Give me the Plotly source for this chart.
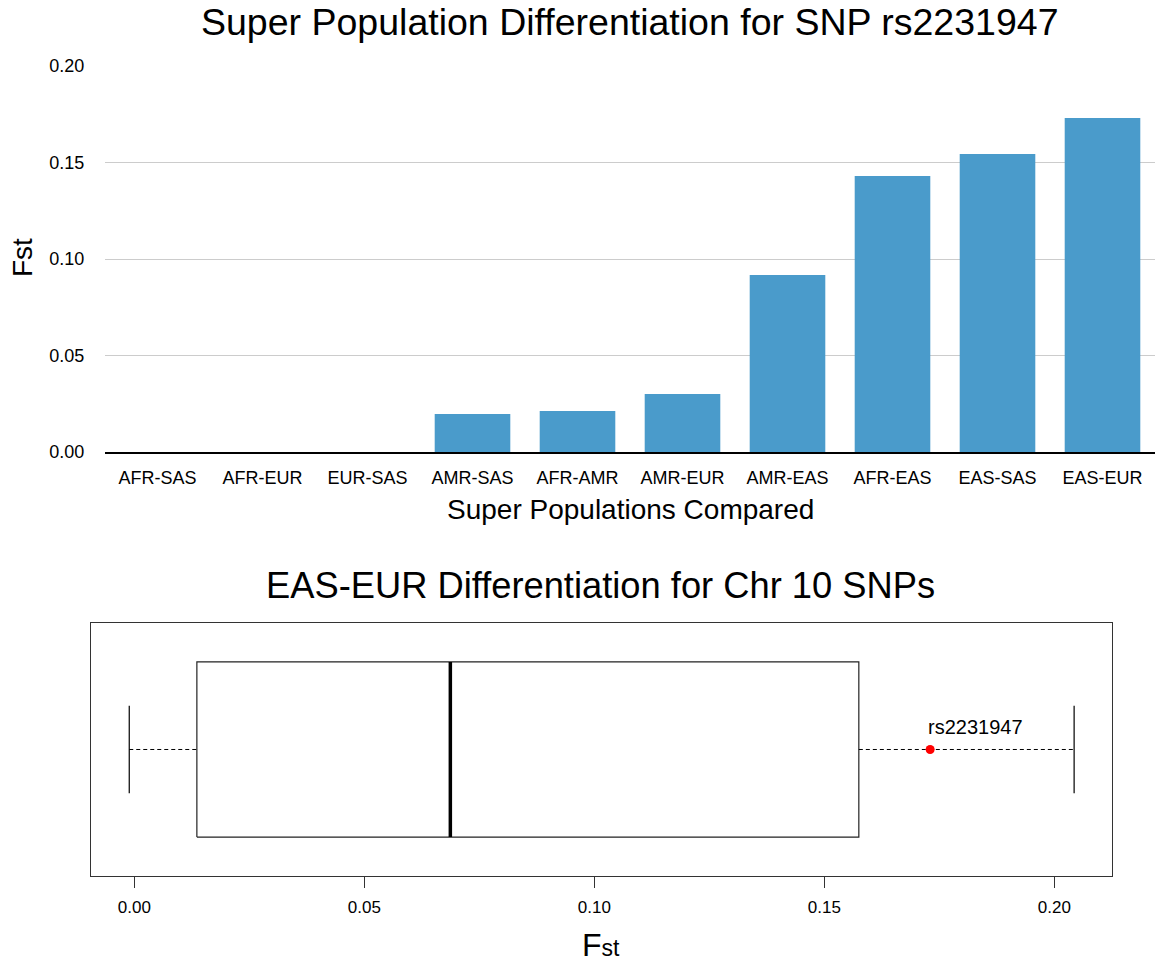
import plotly.graph_objects as go

# Pairwise Fst for rs2231947 between 1000 Genomes super populations
pairs = ["AFR-SAS", "AFR-EUR", "EUR-SAS", "AMR-SAS", "AFR-AMR",
         "AMR-EUR", "AMR-EAS", "AFR-EAS", "EAS-SAS", "EAS-EUR"]
fst_values = [0.0, 0.0, 0.0, 0.0197, 0.0212, 0.0300, 0.0917, 0.1430, 0.1544, 0.1730]

# EAS-EUR Fst distribution across chromosome 10 SNPs (boxplot summary)
box_stats = {"whisker_low": -0.0011, "q1": 0.0136, "median": 0.0687,
             "q3": 0.1575, "whisker_high": 0.2043}
snp_name = "rs2231947"
snp_fst = 0.1730

y_ticks_top = [0.0, 0.05, 0.10, 0.15, 0.20]
x_ticks_bottom = [0.0, 0.05, 0.10, 0.15, 0.20]

W, H = 1155, 966
FONT = "Liberation Sans, Arial, Helvetica, sans-serif"
BAR_COLOR = "#4a9bcb"


def py(px):
    # pixel row -> paper fraction
    return 1 - (px - 10) / 946


def pxx(px):
    return px / W


fig = go.Figure()

# --- top: bar chart ---
fig.add_trace(go.Bar(
    x=pairs, y=fst_values, marker=dict(color=BAR_COLOR, line=dict(width=0)),
    xaxis="x", yaxis="y", showlegend=False, hoverinfo="x+y",
))

# --- bottom: R-style horizontal boxplot ---
center = 0.5
box_half = 0.347
cap_half = 0.1735
s = box_stats
line_col = "#222222"

# box outline
fig.add_trace(go.Scatter(
    x=[s["q1"], s["q3"], s["q3"], s["q1"], s["q1"]],
    y=[center - box_half, center - box_half, center + box_half,
       center + box_half, center - box_half],
    mode="lines", line=dict(color=line_col, width=1.2),
    xaxis="x2", yaxis="y2", showlegend=False, hoverinfo="skip",
))
# median
fig.add_trace(go.Scatter(
    x=[s["median"], s["median"]], y=[center - box_half, center + box_half],
    mode="lines", line=dict(color="black", width=3.5),
    xaxis="x2", yaxis="y2", showlegend=False, hoverinfo="skip",
))
# dashed whiskers
for a, b in [(s["whisker_low"], s["q1"]), (s["q3"], s["whisker_high"])]:
    fig.add_trace(go.Scatter(
        x=[a, b], y=[center, center], mode="lines",
        line=dict(color="black", width=1, dash="4px,3px"),
        xaxis="x2", yaxis="y2", showlegend=False, hoverinfo="skip",
    ))
# whisker caps
for v in [s["whisker_low"], s["whisker_high"]]:
    fig.add_trace(go.Scatter(
        x=[v, v], y=[center - cap_half, center + cap_half], mode="lines",
        line=dict(color="black", width=1.2),
        xaxis="x2", yaxis="y2", showlegend=False, hoverinfo="skip",
    ))
# highlighted SNP
fig.add_trace(go.Scatter(
    x=[snp_fst], y=[center], mode="markers",
    marker=dict(color="#ff0000", size=9, line=dict(width=0)),
    xaxis="x2", yaxis="y2", showlegend=False, name=snp_name,
))

annotations = [
    dict(text="Super Population Differentiation for SNP rs2231947",
         x=pxx(630), y=py(22), xref="paper", yref="paper",
         showarrow=False, xanchor="center", yanchor="middle",
         font=dict(size=37.5, color="black", family=FONT)),
    dict(text="Super Populations Compared",
         x=pxx(630), y=py(509), xref="paper", yref="paper",
         showarrow=False, xanchor="center", yanchor="middle",
         font=dict(size=28, color="black", family=FONT)),
    dict(text="Fst", x=pxx(22), y=py(258), xref="paper", yref="paper",
         showarrow=False, xanchor="center", yanchor="middle", textangle=-90,
         font=dict(size=28, color="black", family=FONT)),
    dict(text="EAS-EUR Differentiation for Chr 10 SNPs",
         x=pxx(600), y=py(585), xref="paper", yref="paper",
         showarrow=False, xanchor="center", yanchor="middle",
         font=dict(size=36.3, color="black", family=FONT)),
    dict(text="F<span style='font-size:23px'>st</span>",
         x=pxx(601), y=py(945), xref="paper", yref="paper",
         showarrow=False, xanchor="center", yanchor="middle",
         font=dict(size=32, color="black", family=FONT)),
    dict(text=snp_name, x=snp_fst, y=center, xref="x2", yref="y2",
         showarrow=False, xanchor="left", yanchor="bottom", xshift=-4, yshift=10,
         font=dict(size=20, color="black", family=FONT)),
]

fig.update_layout(
    width=W, height=H,
    margin=dict(l=0, r=0, t=0, b=0),
    paper_bgcolor="white", plot_bgcolor="white",
    font=dict(family=FONT, color="black"),
    bargap=0.28,
    annotations=annotations,
    xaxis=dict(
        domain=[pxx(105), 1.0], anchor="y",
        showline=True, linecolor="black", linewidth=2,
        ticks="outside", ticklen=8, tickcolor="rgba(0,0,0,0)",
        tickfont=dict(size=18, family=FONT, color="black"),
        showgrid=False, zeroline=False, fixedrange=True,
    ),
    yaxis=dict(
        domain=[py(452), py(66)], anchor="x",
        range=[0, 0.2], tickvals=y_ticks_top,
        ticktext=[f"{v:.2f}" for v in y_ticks_top],
        ticks="outside", ticklen=16, tickcolor="rgba(0,0,0,0)",
        tickfont=dict(size=18, family=FONT, color="black"),
        showgrid=True, gridcolor="#cccccc", gridwidth=1,
        zeroline=False, showline=False, fixedrange=True,
    ),
    xaxis2=dict(
        domain=[pxx(91.3), pxx(1112.3)], anchor="y2",
        range=[-0.00935, 0.2126], tickvals=x_ticks_bottom,
        ticktext=[f"{v:.2f}" for v in x_ticks_bottom],
        ticks="outside", ticklen=11, tickcolor="#333333", tickwidth=1,
        tickfont=dict(size=17, family=FONT, color="black"),
        ticklabelstandoff=5,
        showline=True, mirror=True, linecolor="#333333", linewidth=1.2,
        showgrid=False, zeroline=False, fixedrange=True,
    ),
    yaxis2=dict(
        domain=[py(875.7), py(623.3)], anchor="x2",
        range=[0, 1], showticklabels=False, ticks="",
        showline=True, mirror=True, linecolor="#333333", linewidth=1.2,
        showgrid=False, zeroline=False, fixedrange=True,
    ),
)

fig.write_html("out.html")
